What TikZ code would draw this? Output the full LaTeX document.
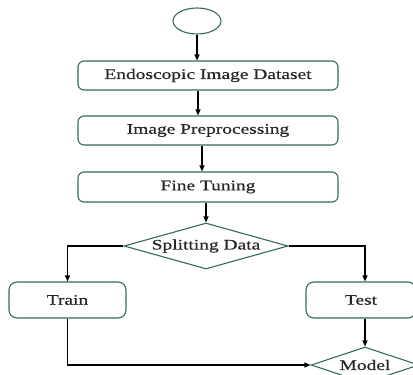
\documentclass[tikz,border=0pt]{standalone}
\usepackage{fontspec}
\setmainfont{Liberation Serif}[FakeStretch=1.34, FakeBold=0.6]
\usetikzlibrary{shapes.geometric,arrows.meta}
\definecolor{boxgreen}{RGB}{52,106,88}
\begin{document}
\begin{tikzpicture}
  [
    x = 1pt, y = -1pt,
    every node/.style = {font = \fontsize{14.5}{16}\selectfont, text = black!85},
    stepbox/.style = {draw = boxgreen, line width = 1.1pt, rectangle,
        rounded corners = 6pt, inner sep = 0pt},
    decision/.style = {draw = boxgreen, line width = 1.1pt, diamond,
        inner sep = 0pt},
    startnode/.style = {draw = boxgreen, line width = 1.1pt, ellipse,
        minimum width = 48pt, minimum height = 26pt},
    arrow/.style = {draw = black, line width = 1.1pt,
        -{Triangle[length = 6pt, width = 5pt]}},
  ]

  \useasboundingbox (0,0) rectangle (413,375);

  \node [startnode] (start) at (197,21) {};
  \node [stepbox, minimum width = 260pt, minimum height = 29pt] (data) at (208,75.5) {Endoscopic Image Dataset};
  \node [stepbox, minimum width = 260pt, minimum height = 29pt] (prep) at (208,130.5) {Image Preprocessing};
  \node [stepbox, minimum width = 260pt, minimum height = 30pt] (tune) at (208,187) {Fine Tuning};
  \node [decision, minimum width = 164pt, minimum height = 46pt, shape aspect = 3.57] (split) at (206,246) {Splitting Data};
  \node [stepbox, rounded corners = 8pt, minimum width = 117pt, minimum height = 36pt] (train) at (67.5,300) {Train};
  \node [stepbox, rounded corners = 8pt, minimum width = 110pt, minimum height = 36pt] (test) at (361,300) {Test};
  \node [decision, minimum width = 108pt, minimum height = 36pt, shape aspect = 3] (model) at (365,365) {Model};

  \draw [arrow] (start.south) -- (start.south |- data.north);
  \draw [arrow] ([xshift = -10pt]data.south) -- ([xshift = -10pt]data.south |- prep.north);
  \draw [arrow] ([xshift = -6pt]prep.south) -- ([xshift = -6pt]prep.south |- tune.north);
  \draw [arrow] (tune.south -| split.north) -- (split.north);
  \draw [arrow] (split.west) -| (train.north);
  \draw [arrow] (split.east) -| (model.north |- test.north);
  \draw [arrow] (test.south -| model.north) -- (model.north);
  \draw [arrow] (train.south) |- (model.west);

\end{tikzpicture}
\end{document}
